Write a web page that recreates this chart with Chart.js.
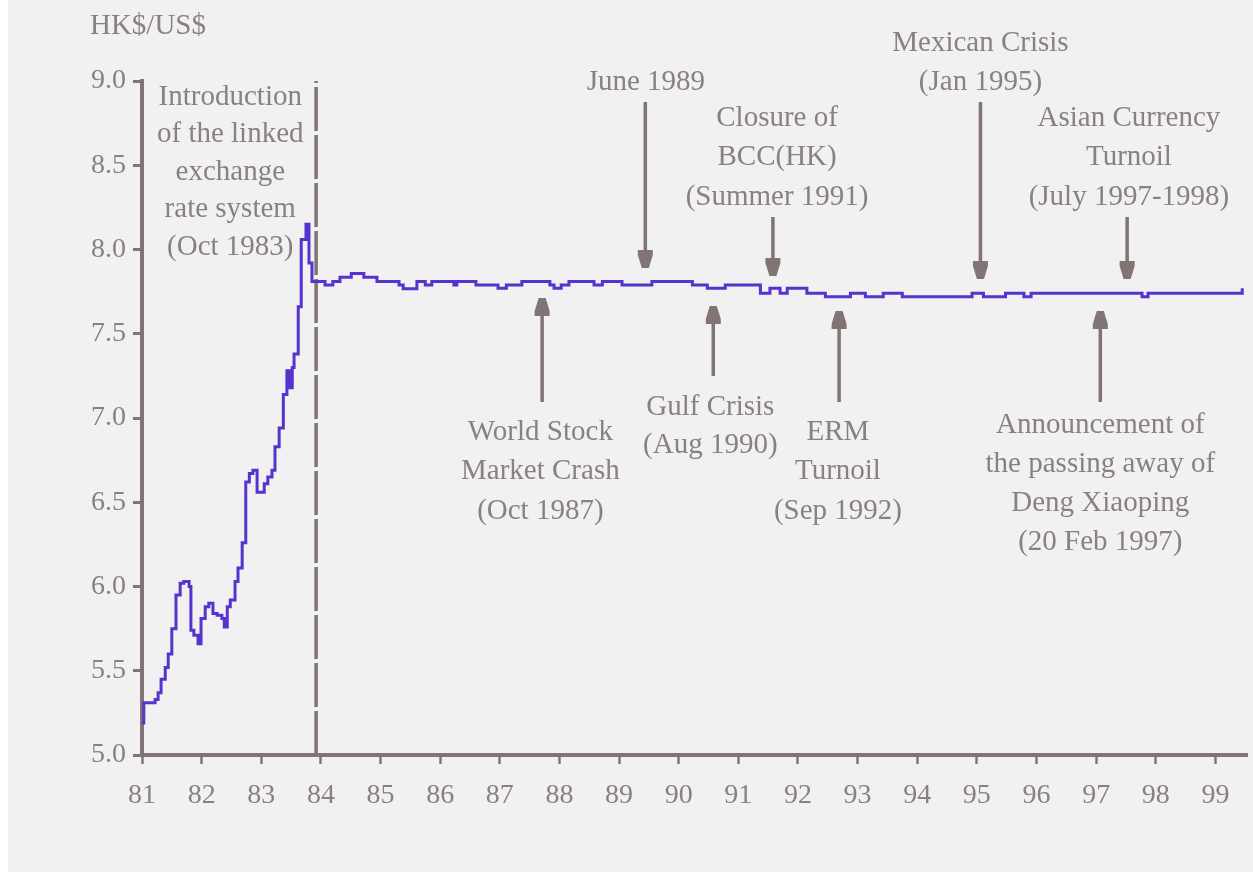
<!DOCTYPE html>
<html><head><meta charset="utf-8">
<script src="https://cdn.jsdelivr.net/npm/chart.js@4.4.0/dist/chart.umd.min.js"></script>
<style>
html,body{margin:0;padding:0;background:#ffffff;}
#wrap{position:absolute;left:0;top:0;width:1253px;height:872px;}
</style></head><body>
<div id="wrap"><canvas id="c" width="1253" height="872"></canvas></div>
<script>
// ---- data (HK$ per US$) ----
const years = [
  1981.00,1981.03,1981.22,1981.27,1981.32,1981.39,1981.44,1981.50,1981.57,1981.64,
  1981.70,1981.79,1981.82,1981.87,1981.94,1981.99,1982.06,1982.12,1982.19,1982.26,
  1982.34,1982.38,1982.43,1982.48,1982.56,1982.61,1982.68,1982.74,1982.80,1982.86,
  1982.93,1983.05,1983.11,1983.18,1983.23,1983.30,1983.37,1983.43,1983.47,1983.52,
  1983.55,1983.62,1983.67,1983.75,1983.80,1983.85,
  1984.07,1984.20,1984.32,1984.51,1984.72,1984.94,1985.31,1985.38,1985.61,1985.75,
  1985.86,1986.23,1986.28,1986.60,1986.97,1987.11,1987.37,1987.84,1987.91,1988.03,
  1988.16,1988.58,1988.72,1989.05,1989.55,1990.23,1990.48,1990.78,1991.37,1991.53,
  1991.70,1991.82,1992.15,1992.46,1992.88,1993.13,1993.43,1993.75,1994.92,1995.11,
  1995.48,1995.79,1995.91,1997.77,1997.87,1999.45
];
const rates = [
  5.19,5.31,5.33,5.37,5.45,5.52,5.60,5.75,5.95,6.02,
  6.03,6.00,5.74,5.71,5.66,5.81,5.88,5.90,5.84,5.83,
  5.81,5.76,5.88,5.92,6.03,6.11,6.26,6.62,6.67,6.69,
  6.56,6.61,6.65,6.69,6.83,6.94,7.14,7.28,7.18,7.30,
  7.38,7.66,8.06,8.15,7.92,7.81,
  7.79,7.81,7.835,7.858,7.835,7.81,7.79,7.767,7.81,7.79,
  7.81,7.79,7.81,7.79,7.77,7.79,7.81,7.79,7.77,7.79,
  7.81,7.79,7.81,7.79,7.81,7.79,7.77,7.79,7.74,7.77,
  7.74,7.77,7.74,7.72,7.74,7.72,7.74,7.72,7.74,7.72,
  7.74,7.72,7.74,7.72,7.74,7.77
];
const yearTicks = [1981,1982,1983,1984,1985,1986,1987,1988,1989,1990,1991,1992,1993,1994,1995,1996,1997,1998,1999];
const yearTickLabels = ['81','82','83','84','85','86','87','88','89','90','91','92','93','94','95','96','97','98','99'];
const rateTicks = [5.0,5.5,6.0,6.5,7.0,7.5,8.0,8.5,9.0];
const rateTickLabels = ['5.0','5.5','6.0','6.5','7.0','7.5','8.0','8.5','9.0'];
const linkYear = 1983.92;   // introduction of the linked exchange rate system
const axisTitle = 'HK$/US$';

// ---- annotations (positions in data units) ----
const notes = [
  {x:1982.48, y:8.905, lines:['Introduction','of the linked','exchange','rate system','(Oct 1983)'], gap:37.5},
  {x:1989.45, y:8.994, lines:['June 1989'], gap:39},
  {x:1991.65, y:8.780, lines:['Closure of','BCC(HK)','(Summer 1991)'], gap:39.5},
  {x:1995.06, y:9.226, lines:['Mexican Crisis','(Jan 1995)'], gap:39},
  {x:1997.55, y:8.780, lines:['Asian Currency','Turnoil','(July 1997-1998)'], gap:39.5},
  {x:1987.68, y:6.917, lines:['World Stock','Market Crash','(Oct 1987)'], gap:39.5},
  {x:1990.53, y:7.065, lines:['Gulf Crisis','(Aug 1990)'], gap:38},
  {x:1992.67, y:6.917, lines:['ERM','Turnoil','(Sep 1992)'], gap:39.5},
  {x:1997.07, y:6.958, lines:['Announcement of','the passing away of','Deng Xiaoping','(20 Feb 1997)'], gap:39}
];
const arrows = [
  {x:1989.44, from:8.875, to:7.890},
  {x:1991.58, from:8.193, to:7.843},
  {x:1995.06, from:8.875, to:7.825},
  {x:1997.52, from:8.193, to:7.825},
  {x:1987.71, from:7.095, to:7.712},
  {x:1990.58, from:7.249, to:7.665},
  {x:1992.69, from:7.095, to:7.635},
  {x:1997.07, from:7.095, to:7.635}
];

const AXIS = '#807474';
const TEXT = '#8a8080';
const FONT = '"Liberation Serif", "DejaVu Serif", serif';

const bgPlugin = {
  id:'bg',
  beforeDraw(chart){
    const c = chart.ctx;
    c.save();
    c.fillStyle = '#ffffff';
    c.fillRect(0,0,chart.width,chart.height);
    c.fillStyle = '#f1f1f1';
    c.fillRect(8,0,chart.width-8,chart.height);
    c.restore();
  }
};

const notePlugin = {
  id:'notes',
  afterDraw(chart){
    const c = chart.ctx, xs = chart.scales.x, ys = chart.scales.y;
    c.save();
    c.font = '29px ' + FONT;
    c.fillStyle = TEXT;
    c.textAlign = 'center';
    c.textBaseline = 'middle';
    c.fillText(axisTitle, xs.getPixelForValue(1981.10), ys.getPixelForValue(9.326));
    notes.forEach(n => {
      const px = xs.getPixelForValue(n.x), py = ys.getPixelForValue(n.y);
      n.lines.forEach((t,i) => c.fillText(t, px, py + i*n.gap));
    });
    c.strokeStyle = AXIS;
    c.fillStyle = AXIS;
    c.lineWidth = 3.5;
    arrows.forEach(a => {
      const px = xs.getPixelForValue(a.x);
      const y0 = ys.getPixelForValue(a.from), y1 = ys.getPixelForValue(a.to);
      const dir = y1 > y0 ? 1 : -1;
      const hl = 18, hw = 7.5, tw = 3.5;
      const hb = y1 - dir*hl;
      c.beginPath();
      c.moveTo(px, y0);
      c.lineTo(px, hb);
      c.stroke();
      c.beginPath();
      c.moveTo(px - hw, hb);
      c.lineTo(px + hw, hb);
      c.lineTo(px + hw, hb + dir*5);
      c.lineTo(px + tw, y1);
      c.lineTo(px - tw, y1);
      c.lineTo(px - hw, hb + dir*5);
      c.closePath();
      c.fill();
    });
    c.restore();
  }
};

new Chart(document.getElementById('c'), {
  type:'line',
  data:{
    datasets:[
      {
        data: years.map((x,i) => ({x, y: rates[i]})),
        borderColor:'#5533cc',
        borderWidth:3,
        pointRadius:0,
        stepped:'before',
        fill:false
      },
      {
        data:[{x:linkYear,y:rateTicks[0]},{x:linkYear,y:rateTicks[rateTicks.length-1]}],
        borderColor:AXIS,
        borderWidth:3.5,
        borderDash:[44,4],
        pointRadius:0,
        fill:false
      }
    ]
  },
  options:{
    responsive:false,
    animation:false,
    devicePixelRatio:1,
    layout:{padding:{left:0, top:81, right:6, bottom:0}},
    plugins:{legend:{display:false}, tooltip:{enabled:false}},
    scales:{
      x:{
        type:'linear',
        min:1981, max:1999.53,
        afterBuildTicks(s){ s.ticks = yearTicks.map(v => ({value:v})); },
        afterFit(s){ s.height = 117; },
        grid:{display:true, drawOnChartArea:false, drawTicks:true, tickLength:9, tickWidth:2.5, tickColor:AXIS},
        border:{display:true, color:AXIS, width:4},
        ticks:{
          autoSkip:false, maxRotation:0, padding:15,
          color:TEXT, font:{family:FONT, size:28},
          callback(v){ return yearTickLabels[yearTicks.indexOf(v)]; }
        }
      },
      y:{
        type:'linear',
        min:5, max:9,
        afterBuildTicks(s){ s.ticks = rateTicks.map(v => ({value:v})); },
        afterFit(s){ s.width = 142; },
        grid:{display:true, drawOnChartArea:false, drawTicks:true, tickLength:9, tickWidth:3, tickColor:AXIS},
        border:{display:true, color:AXIS, width:4},
        ticks:{
          autoSkip:false, padding:7,
          color:TEXT, font:{family:FONT, size:28},
          callback(v){ return rateTickLabels[rateTicks.indexOf(v)]; }
        }
      }
    }
  },
  plugins:[bgPlugin, notePlugin]
});
</script>
</body></html>
